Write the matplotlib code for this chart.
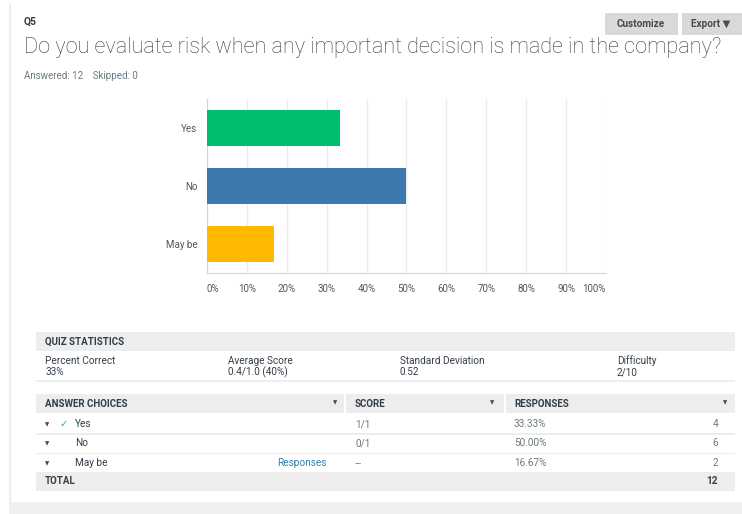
import matplotlib.pyplot as plt
from matplotlib.patches import Rectangle

plt.rcParams['font.family'] = ['Roboto', 'DejaVu Sans']

# survey data
question_no = "Q5"
question = "Do you evaluate risk when any important decision is made in the company?"
answered = 12
skipped = 0
choices = ["Yes", "No", "May be"]
percents = [33.33, 50.00, 16.67]
counts = [4, 6, 2]
scores = ["1/1", "0/1", "--"]
bar_colors = ["#00bf6f", "#3d78ae", "#ffb900"]
xticks = [0, 10, 20, 30, 40, 50, 60, 70, 80, 90, 100]
stat_names = ["Percent Correct", "Average Score", "Standard Deviation", "Difficulty"]
stat_values = ["33%", "0.4/1.0 (40%)", "0.52", "2/10"]

W, H = 742, 514


def fx(x):
    return x / W


def fy(y):
    return 1 - y / H


def box(fig, x0, y0, x1, y1, color):
    fig.patches.append(Rectangle((fx(x0), fy(y1)), fx(x1) - fx(x0), fy(y0) - fy(y1),
                                 transform=fig.transFigure, color=color, zorder=0, lw=0))


def txt(fig, x, y, s, size=7.2, color="#333e48", **kw):
    fig.text(fx(x), fy(y), s, fontsize=size, color=color, va="center", **kw)


fig = plt.figure(figsize=(W / 100, H / 100), dpi=100)

# page frame
box(fig, 9, 4, 11, 502, "#eeeeee")
box(fig, 9, 502, 742, 514, "#efefef")

# header
txt(fig, 24, 22, question_no, size=7.5, weight="bold")
txt(fig, 24, 48, question, size=15.6, color="#333e48", weight="light")
txt(fig, 24, 76, "Answered: %d    Skipped: %d" % (answered, skipped), size=7, color="#6b787f")

# buttons
box(fig, 605, 13, 678, 35, "#d9d9d9")
box(fig, 682, 13, 742, 35, "#d9d9d9")
txt(fig, 641, 24, "Customize", size=7.2, color="#4a4a4a", weight="bold", ha="center")
txt(fig, 711, 24, "Export \u25BC", size=7.2, color="#4a4a4a", weight="bold", ha="center")

# bar chart
ax = fig.add_axes([fx(207), fy(273), fx(606) - fx(207), fy(99) - fy(273)])
ypos = list(range(len(choices)))
ax.barh(ypos, percents, height=0.62, color=bar_colors, zorder=3)
ax.set_xlim(0, 100)
ax.set_ylim(len(choices) - 0.5, -0.5)
ax.set_yticks(ypos)
ax.set_yticklabels(choices)
ax.set_xticks(xticks)
ax.set_xticklabels(["%d%%" % t for t in xticks])
ax.tick_params(axis="both", length=0, labelsize=7, labelcolor="#555555")
ax.tick_params(axis="x", pad=8)
ax.tick_params(axis="y", pad=7)
xlabels = ax.get_xticklabels()
xlabels[0].set_ha("left")
xlabels[-1].set_ha("right")
ax.grid(axis="x", color="#ebebeb", lw=1, zorder=0)
for side in ["top", "right"]:
    ax.spines[side].set_visible(False)
for side in ["left", "bottom"]:
    ax.spines[side].set_color("#d6d6d6")

# quiz statistics
box(fig, 36, 332, 735, 351, "#ededed")
txt(fig, 45, 341.5, "QUIZ STATISTICS", size=7, weight="bold")
stat_x = [45, 228, 400, 617]
for x, n, v in zip(stat_x, stat_names, stat_values):
    txt(fig, x, 361, n)
    txt(fig, x, 372, v)
box(fig, 36, 380, 735, 382, "#ededed")

# answer table
box(fig, 36, 394, 344, 413, "#ededed")
box(fig, 346, 394, 504, 413, "#ededed")
box(fig, 506, 394, 735, 413, "#ededed")
txt(fig, 45, 404, "ANSWER CHOICES", size=7, weight="bold")
txt(fig, 355, 404, "SCORE", size=7, weight="bold")
txt(fig, 514, 404, "RESPONSES", size=7, weight="bold")
for x in [335, 492, 725]:
    txt(fig, x, 403, "\u25BC", size=4, color="#4a4a4a", ha="center", family="DejaVu Sans")

row_y = [424, 443.5, 463]
for i, (c, sc, p, n) in enumerate(zip(choices, scores, percents, counts)):
    y = row_y[i]
    txt(fig, 47, y + 0.5, "\u25BC", size=4, color="#4a4a4a", ha="center", family="DejaVu Sans")
    if i == 0:
        txt(fig, 64, y, "\u2713", size=7, color="#00bf6f", ha="center", family="DejaVu Sans")
    txt(fig, 75, y, c)
    if sc == "--":
        txt(fig, 277, y, "Responses", color="#2d7fae")
    txt(fig, 355, y, sc, color="#6b787f", family="DejaVu Sans" if sc == "--" else None)
    txt(fig, 514, y, "%.2f%%" % p, color="#6b787f")
    txt(fig, 718, y, str(n), color="#6b787f", ha="right")
    if i < len(choices) - 1:
        box(fig, 36, y + 9, 735, y + 10.5, "#ededed")

box(fig, 36, 472, 735, 491, "#ededed")
txt(fig, 45, 481.5, "TOTAL", size=7, weight="bold")
txt(fig, 718, 481.5, str(sum(counts)), weight="bold", ha="right")

fig.savefig("out.png", dpi=100)
